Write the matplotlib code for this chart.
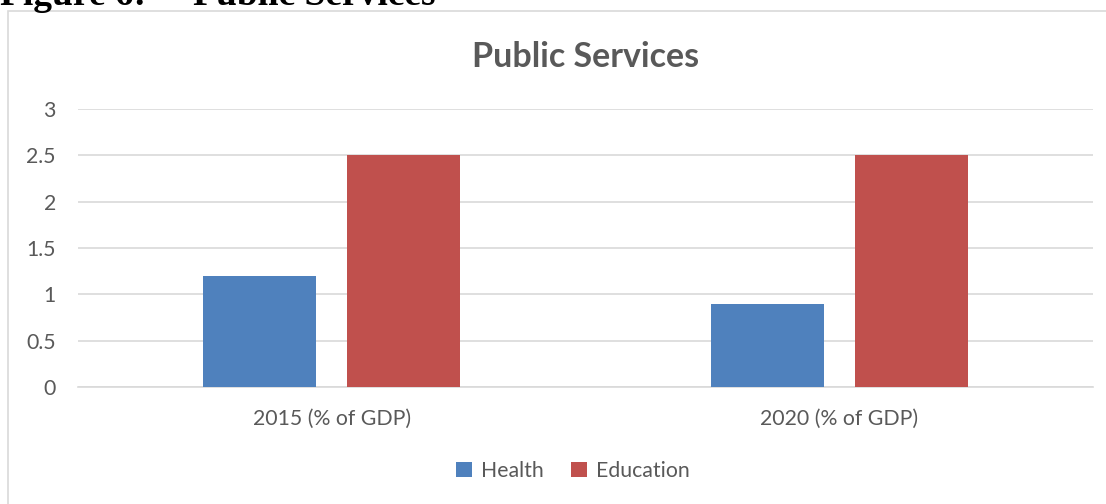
import matplotlib
matplotlib.use('Agg')
import matplotlib.pyplot as plt
from matplotlib.patches import Rectangle
import numpy as np

categories = ['2015 (% of GDP)', '2020 (% of GDP)']
health = [1.2, 0.9]
education = [2.5, 2.5]
yticks = [0, 0.5, 1, 1.5, 2, 2.5, 3]
ytick_labels = ['0', '0.5', '1', '1.5', '2', '2.5', '3']

plt.rcParams['font.family'] = ['Lato', 'DejaVu Sans']
grey = '#595959'

fig = plt.figure(figsize=(11.06, 5.04), dpi=100)

# chart border (cut off at right and bottom)
fig.patches.append(Rectangle((8 / 1106, -0.1), 1.2, 1 - 11 / 504 + 0.1,
                             transform=fig.transFigure, fill=False,
                             edgecolor='#d9d9d9', linewidth=1.2))

# page heading, cut off by the top edge as in the source
fig.text(0.0, 1 - 5 / 504, 'Figure 6:     Public Services', family='Liberation Serif',
         fontweight='bold', fontsize=27, va='baseline', ha='left', color='black')

ax = fig.add_axes([78 / 1106, 1 - 387 / 504, (1093 - 78) / 1106, (387 - 109) / 504])

x = np.arange(len(categories))
w = 0.223
off = 0.142
ax.bar(x - off, health, w, color='#4f81bd', label='Health', zorder=3)
ax.bar(x + off, education, w, color='#c0504d', label='Education', zorder=3)

ax.set_xlim(-0.5, 1.5)
ax.set_ylim(0, 3)
ax.set_yticks(yticks)
ax.set_yticklabels(ytick_labels)
ax.set_xticks(x)
ax.set_xticklabels(categories)
ax.yaxis.grid(True, color='#d9d9d9', linewidth=1.2, zorder=0)
ax.tick_params(axis='both', length=0, colors=grey, labelsize=15.3)
ax.tick_params(axis='x', pad=16)
ax.tick_params(axis='y', pad=16)
for s in ['top', 'right', 'left']:
    ax.spines[s].set_visible(False)
ax.spines['bottom'].set_color('#d9d9d9')
ax.spines['bottom'].set_linewidth(1.2)

ax.set_title('Public Services', fontsize=24.5, fontweight='bold', color=grey, pad=30)

fig.legend(loc='center', bbox_to_anchor=(0.518, 1 - 471 / 504), ncol=2, frameon=False,
           fontsize=15.3, labelcolor=grey, handlelength=0.75, handleheight=0.75,
           handletextpad=0.4, columnspacing=1.3)

fig.savefig('out.png', dpi=100)
